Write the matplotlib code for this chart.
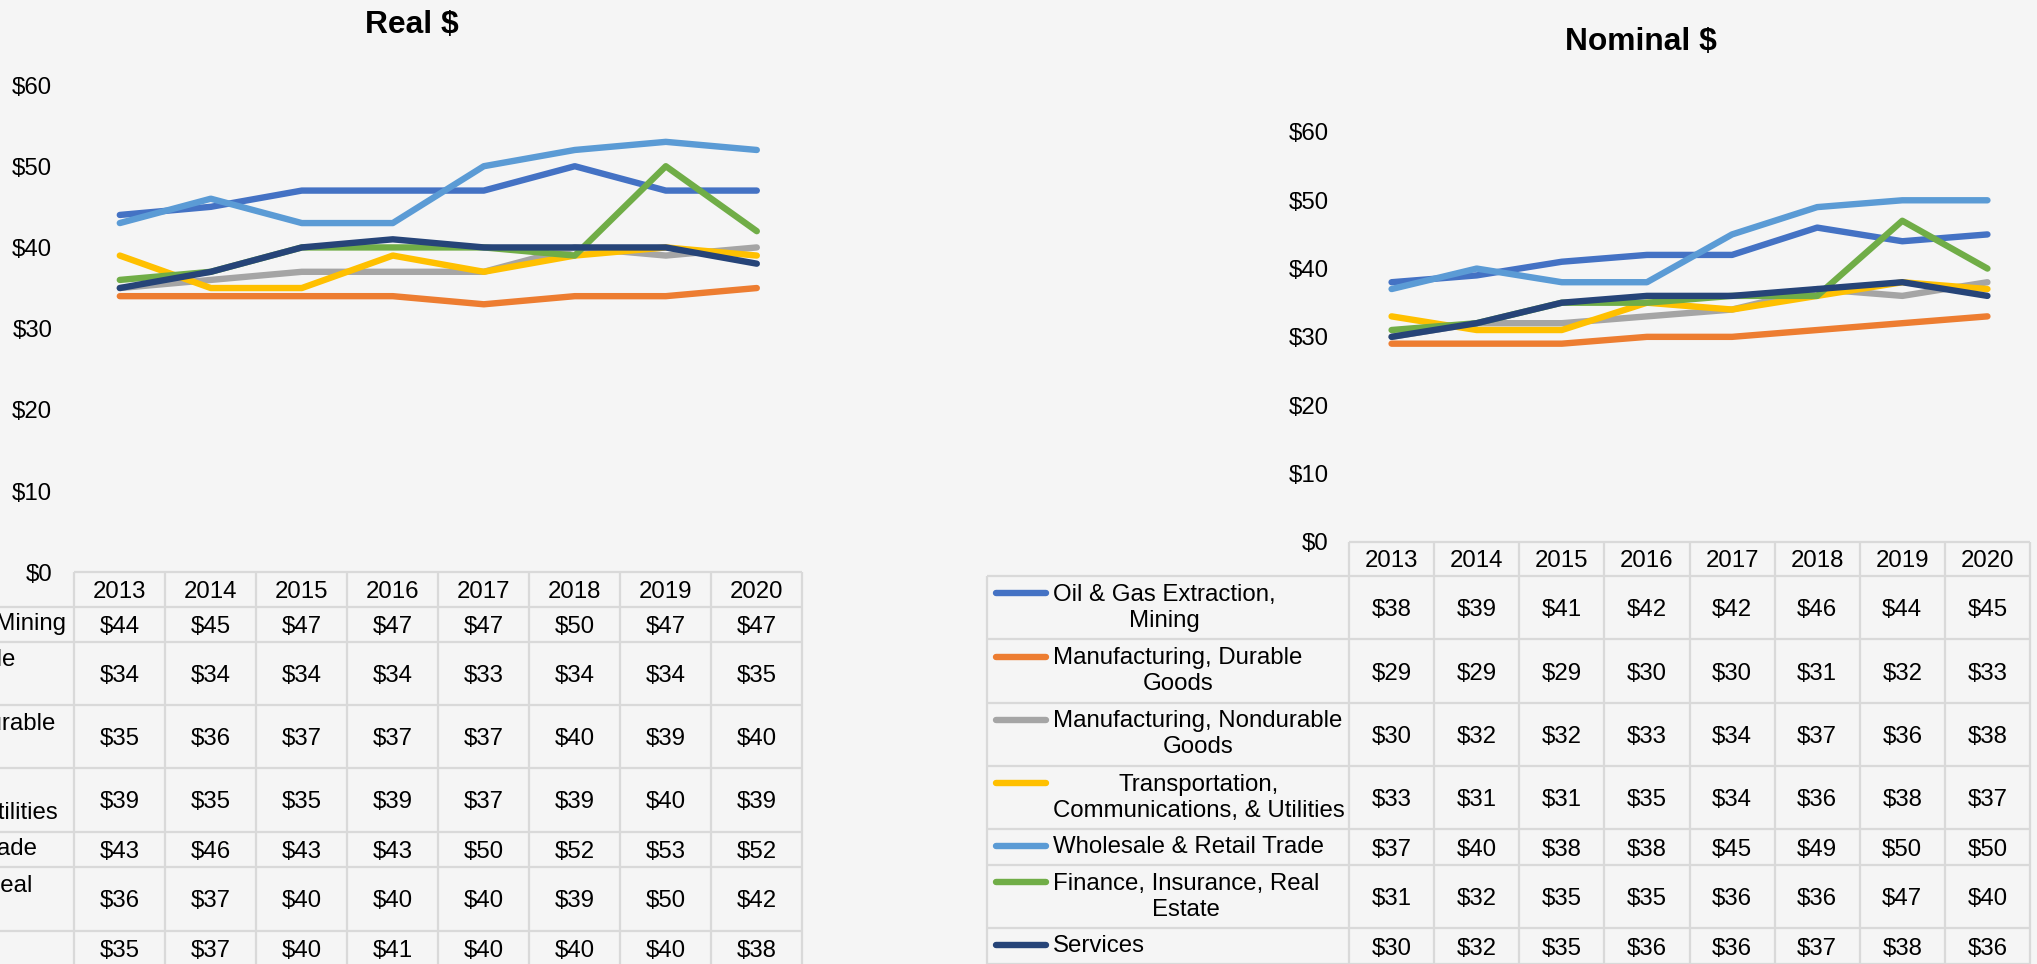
import matplotlib
matplotlib.use("Agg")
import matplotlib.pyplot as plt

# ---------------- data ----------------
years = [2013, 2014, 2015, 2016, 2017, 2018, 2019, 2020]
y_ticks = [0, 10, 20, 30, 40, 50, 60]

industries = [
    "Oil & Gas Extraction, Mining",
    "Manufacturing, Durable Goods",
    "Manufacturing, Nondurable Goods",
    "Transportation, Communications, & Utilities",
    "Wholesale & Retail Trade",
    "Finance, Insurance, Real Estate",
    "Services",
]
# wrapped legend labels as they appear in each table
labels_real = [
    "Oil & Gas Extraction, Mining",
    "Manufacturing, Durable\nGoods",
    "Manufacturing, Nondurable\nGoods",
    "Transportation,\nCommunications, & Utilities",
    "Wholesale & Retail Trade",
    "Finance, Insurance, Real\nEstate",
    "Services",
]
labels_nominal = [
    "Oil & Gas Extraction,\nMining",
    "Manufacturing, Durable\nGoods",
    "Manufacturing, Nondurable\nGoods",
    "Transportation,\nCommunications, & Utilities",
    "Wholesale & Retail Trade",
    "Finance, Insurance, Real\nEstate",
    "Services",
]

real_oil_gas     = [44, 45, 47, 47, 47, 50, 47, 47]
real_durable     = [34, 34, 34, 34, 33, 34, 34, 35]
real_nondurable  = [35, 36, 37, 37, 37, 40, 39, 40]
real_transport   = [39, 35, 35, 39, 37, 39, 40, 39]
real_wholesale   = [43, 46, 43, 43, 50, 52, 53, 52]
real_finance     = [36, 37, 40, 40, 40, 39, 50, 42]
real_services    = [35, 37, 40, 41, 40, 40, 40, 38]

nom_oil_gas      = [38, 39, 41, 42, 42, 46, 44, 45]
nom_durable      = [29, 29, 29, 30, 30, 31, 32, 33]
nom_nondurable   = [30, 32, 32, 33, 34, 37, 36, 38]
nom_transport    = [33, 31, 31, 35, 34, 36, 38, 37]
nom_wholesale    = [37, 40, 38, 38, 45, 49, 50, 50]
nom_finance      = [31, 32, 35, 35, 36, 36, 47, 40]
nom_services     = [30, 32, 35, 36, 36, 37, 38, 36]

real_series = [real_oil_gas, real_durable, real_nondurable, real_transport,
               real_wholesale, real_finance, real_services]
nom_series = [nom_oil_gas, nom_durable, nom_nondurable, nom_transport,
              nom_wholesale, nom_finance, nom_services]

colors = ["#4472C4", "#ED7D31", "#A5A5A5", "#FFC000", "#5B9BD5", "#70AD47", "#264478"]

# ---------------- style ----------------
W, H = 2037, 964
BG = "#f5f5f5"
GRID = "#d9d9d9"
FS = 17.3
LW = 4.6
plt.rcParams["font.family"] = ["Liberation Sans", "DejaVu Sans"]

fig = plt.figure(figsize=(W / 100, H / 100), dpi=100, facecolor=BG)

overlay = fig.add_axes([0, 0, 1, 1], zorder=5)
overlay.set_xlim(0, W)
overlay.set_ylim(H, 0)
overlay.axis("off")


def panel(title, series, x0, x1, y_bottom, y_top, pad_px, title_xy):
    ax = fig.add_axes([x0 / W, 1 - y_bottom / H, (x1 - x0) / W, (y_bottom - y_top) / H])
    ax.set_facecolor("none")
    xs = list(range(len(years)))
    for s, c in zip(series, colors):
        ax.plot(xs, s, color=c, lw=LW, solid_capstyle="round",
                solid_joinstyle="round", clip_on=False)
    ax.set_xlim(-0.5, len(years) - 0.5)
    ax.set_ylim(0, 60)
    ax.set_yticks(y_ticks)
    ax.set_yticklabels([f"${v}" for v in y_ticks])
    ax.tick_params(axis="y", length=0, pad=pad_px * 0.72, labelsize=FS, labelcolor="black")
    ax.set_xticks([])
    for sp in ax.spines.values():
        sp.set_visible(False)
    overlay.text(title_xy[0], title_xy[1], title, ha="center", va="center",
                 fontsize=22.9, fontweight="bold", color="black")


def table(col_edges, row_edges, label_x0, text_x, key_x, labels, series):
    line_kw = dict(color=GRID, lw=1.6, solid_capstyle="butt")
    hy0, hy1 = row_edges[0], row_edges[1]
    overlay.plot([col_edges[0], col_edges[-1]], [hy0, hy0], **line_kw)
    for y in row_edges[1:]:
        overlay.plot([label_x0, col_edges[-1]], [y, y], **line_kw)
    for x in col_edges:
        overlay.plot([x, x], [hy0, row_edges[-1]], **line_kw)
    overlay.plot([label_x0, label_x0], [hy1, row_edges[-1]], **line_kw)
    centers = [(a + b) / 2 for a, b in zip(col_edges[:-1], col_edges[1:])]
    for cx, yr in zip(centers, years):
        overlay.text(cx, (hy0 + hy1) / 2, str(yr), ha="center", va="center_baseline",
                     fontsize=FS, color="black")
    LS = 27
    for i, (lab, s, c) in enumerate(zip(labels, series, colors)):
        ry0, ry1 = row_edges[i + 1], row_edges[i + 2]
        cy = (ry0 + ry1) / 2
        n = lab.count("\n") + 1
        ky = cy - (n - 1) * LS / 2 - 1
        overlay.plot(key_x, [ky, ky], color=c, lw=LW, solid_capstyle="round")
        overlay.text(text_x, cy, lab, ha="left", va="center", multialignment="center",
                     linespacing=1.25, fontsize=FS, color="black")
        for cx, v in zip(centers, s):
            overlay.text(cx, cy, f"${v}", ha="center", va="center_baseline",
                         fontsize=FS, color="black")


# ---------------- Real $ (left, partly cropped) ----------------
L_x0, L_cw = 74.3, 91.0
L_cols = [L_x0 + L_cw * i for i in range(len(years) + 1)]
panel("Real $", real_series, L_cols[0], L_cols[-1], 572.3, 85.0, 22, (412, 25))
table(L_cols, [572.3, 606.7, 641.7, 705.0, 768.3, 831.7, 866.7, 930.7, 966.6],
      -300, -234, [-287, -239], labels_real, real_series)

# ---------------- Nominal $ (right) ----------------
R_x0, R_cw = 1349.0, 85.125
R_cols = [R_x0 + R_cw * i for i in range(len(years) + 1)]
panel("Nominal $", nom_series, R_cols[0], R_cols[-1], 541.7, 132.0, 20.4, (1641, 42))
table(R_cols, [541.7, 576.0, 639.3, 702.7, 766.0, 829.3, 865.0, 928.3, 964.0],
      987, 1053, [996, 1046], labels_nominal, nom_series)

fig.savefig("out.png", dpi=100, facecolor=BG)
